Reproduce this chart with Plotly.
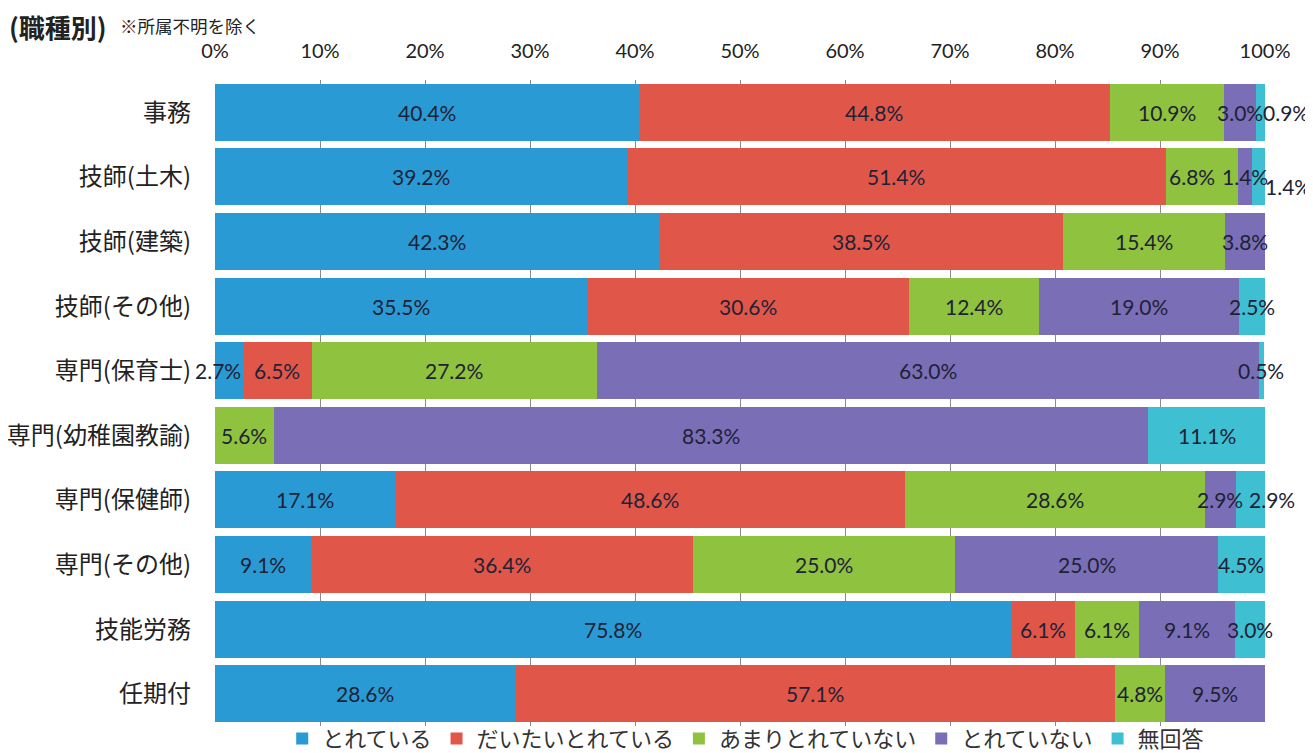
import plotly.graph_objects as go

categories = ["事務", "技師(土木)", "技師(建築)", "技師(その他)", "専門(保育士)",
              "専門(幼稚園教諭)", "専門(保健師)", "専門(その他)", "技能労務", "任期付"]
series_names = ["とれている", "だいたいとれている", "あまりとれていない", "とれていない", "無回答"]
toreteiru = [40.4, 39.2, 42.3, 35.5, 2.7, 0.0, 17.1, 9.1, 75.8, 28.6]
daitai = [44.8, 51.4, 38.5, 30.6, 6.5, 0.0, 48.6, 36.4, 6.1, 57.1]
amari = [10.9, 6.8, 15.4, 12.4, 27.2, 5.6, 28.6, 25.0, 6.1, 4.8]
toreteinai = [3.0, 1.4, 3.8, 19.0, 63.0, 83.3, 2.9, 25.0, 9.1, 9.5]
mukaito = [0.9, 1.4, 0.0, 2.5, 0.5, 11.1, 2.9, 4.5, 3.0, 0.0]
tick_vals = [0, 10, 20, 30, 40, 50, 60, 70, 80, 90, 100]
tick_text = ["0%", "10%", "20%", "30%", "40%", "50%", "60%", "70%", "80%", "90%", "100%"]
title_text = "(職種別)"
subtitle_text = "※所属不明を除く"

colors = ["#2a9ad4", "#e0574a", "#8fc23e", "#7a6fb6", "#3fbfd2"]
series = [toreteiru, daitai, amari, toreteinai, mukaito]

# special label placements: (category index, series index) -> (x mode, xanchor, xshift, yshift)
special = {
    (0, 4): ("end", "left", -4, 0),
    (1, 4): ("end", "left", -2, -10),
    (1, 2): ("mid", "center", -10, 0),
    (6, 4): ("end", "left", -18, 0),
    (4, 0): ("end", "right", 0, 0),
}

num_font = "Lato, Noto Sans CJK JP"
jp_font = "Noto Sans CJK JP"
label_color = "#1e2235"

fig = go.Figure()
annotations = []
for si, (name, vals, col) in enumerate(zip(series_names, series, colors)):
    fig.add_trace(go.Bar(
        y=categories, x=vals, name=name, orientation="h",
        marker=dict(color=col, line=dict(width=0)),
        hoverinfo="skip",
    ))

for ci in range(len(categories)):
    cum = 0.0
    for si in range(len(series)):
        v = series[si][ci]
        start = cum
        cum += v
        if v <= 0:
            continue
        mode, anchor, xs, ys = special.get((ci, si), ("mid", "center", 0, 0))
        xpos = cum if mode == "end" else (start + cum) / 2
        xpos = min(xpos, 100.0)  # rounding can push the total slightly past 100%
        annotations.append(dict(
            x=xpos, y=categories[ci], xref="x", yref="y", text=f"{v:.1f}%",
            showarrow=False, xanchor=anchor, xshift=xs, yshift=ys,
            font=dict(family=num_font, size=21, color=label_color)))

annotations.append(dict(
    x=0, y=1, xref="paper", yref="paper", xanchor="left", yanchor="middle",
    xshift=-208, yshift=54, showarrow=False,
    text=f"<b>{title_text}</b>",
    font=dict(family=jp_font, size=26, color="#222")))
annotations.append(dict(
    x=0, y=1, xref="paper", yref="paper", xanchor="left", yanchor="middle",
    xshift=-97, yshift=55, showarrow=False,
    text=subtitle_text,
    font=dict(family=jp_font, size=17.5, color="#222")))

# the page body has an 8px margin, so the figure is sized 8px smaller
fig.update_layout(
    barmode="stack", bargap=0.12,
    width=1305, height=745,
    margin=dict(l=207, r=48, t=72, b=27, autoexpand=False),
    paper_bgcolor="white", plot_bgcolor="white",
    showlegend=True,
    legend=dict(orientation="h", x=0.064, xanchor="left", y=-0.052, yanchor="bottom",
                bgcolor="rgba(0,0,0,0)",
                font=dict(family=jp_font, size=22, color="#333"),
                itemwidth=30, tracegroupgap=0, traceorder="normal"),
    annotations=annotations,
)
fig.update_xaxes(side="top", range=[0, 100], tickvals=tick_vals, ticktext=tick_text,
                 showgrid=True, gridcolor="#8a8a8a", gridwidth=1, zeroline=False,
                 tickfont=dict(family=num_font, size=20, color="#222"), ticks="",
                 ticklabelstandoff=17, automargin=False, fixedrange=True)
fig.update_yaxes(autorange="reversed", showgrid=False, showline=False,
                 tickfont=dict(family=jp_font, size=24, color="#222"), ticks="",
                 ticklabelstandoff=23, automargin=False)

fig.write_html("out.html")
